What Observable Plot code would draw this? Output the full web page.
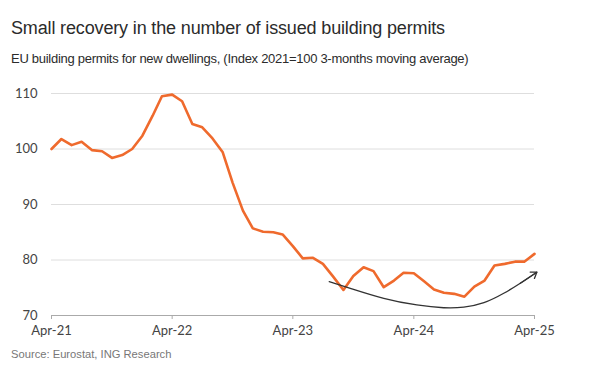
<!DOCTYPE html>
<html><head><meta charset="utf-8">
<script src="https://cdn.jsdelivr.net/npm/d3@7"></script>
<script src="https://cdn.jsdelivr.net/npm/@observablehq/plot@0.6"></script>
<style>
body{margin:0;background:#fff;width:590px;height:392px;position:relative;overflow:hidden}
.t{position:absolute;left:11px;white-space:nowrap;font-family:"Liberation Sans",Arial,sans-serif}
#title{top:17px;font-size:18px;letter-spacing:-0.15px;line-height:22px;color:#2b2b2b}
#subtitle{top:51px;font-size:13px;letter-spacing:-0.28px;line-height:16px;color:#2b2b2b}
#source{top:348px;font-size:11.2px;line-height:13px;color:#777}
#chart{position:absolute;left:0;top:80px}
</style></head><body>
<div id="title" class="t">Small recovery in the number of issued building permits</div>
<div id="subtitle" class="t">EU building permits for new dwellings, (Index 2021=100 3-months moving average)</div>
<div id="chart"></div>
<div id="source" class="t">Source: Eurostat, ING Research</div>
<script>
// Monthly index values, Apr-2021 .. Apr-2025
const startMonth = "2021-04-01";
const permitValues = [
  100.0, 101.8, 100.7, 101.3, 99.8, 99.6, 98.4, 98.9, 100.0,
  102.4, 106.0, 109.5, 109.8, 108.6, 104.5, 103.9, 101.9, 99.4, 93.9, 88.9, 85.7,
  85.1, 85.0, 84.6, 82.5, 80.3, 80.4, 79.3, 77.0, 74.6, 77.1, 78.7, 78.0,
  75.1, 76.3, 77.7, 77.6, 76.2, 74.7, 74.1, 73.9, 73.4, 75.2, 76.3, 79.0,
  79.3, 79.7, 79.7, 81.1
];
const xTickDates = ["2021-04-01", "2022-04-01", "2023-04-01", "2024-04-01", "2025-04-01"];
const xTickLabels = ["Apr-21", "Apr-22", "Apr-23", "Apr-24", "Apr-25"];
const yTicks = [70, 80, 90, 100, 110];
const gridValues = [80, 90, 100, 110];
// annotation arrow path (date, index value)
const arrowDates = ["2023-07-20", "2023-09-22", "2024-01-01", "2024-04-10", "2024-06-30", "2024-08-30", "2024-10-30", "2024-12-29", "2025-02-17", "2025-04-08"];
const arrowValues = [76.1, 74.9, 73.1, 71.9, 71.4, 71.5, 72.3, 74.0, 75.8, 77.8];

const start = new Date(startMonth);
const data = permitValues.map((v, i) => ({date: d3.utcMonth.offset(start, i), value: v}));
const arrowData = arrowDates.map((d, i) => ({date: new Date(d), value: arrowValues[i]}));
const tickDates = xTickDates.map(d => new Date(d));
const labelMap = new Map(tickDates.map((d, i) => [+d, xTickLabels[i]]));
const n = arrowData.length;
const head = [{x1: arrowData[n - 2].date, y1: arrowData[n - 2].value, x2: arrowData[n - 1].date, y2: arrowData[n - 1].value}];

const chart = Plot.plot({
  width: 590, height: 265,
  marginLeft: 51, marginRight: 56, marginTop: 13, marginBottom: 30,
  style: {fontFamily: "Lato, sans-serif", fontSize: "13px", color: "#444", background: "transparent", overflow: "visible"},
  x: {type: "utc", domain: [tickDates[0], tickDates[tickDates.length - 1]]},
  y: {domain: [70, 110]},
  marks: [
    Plot.ruleY(gridValues, {stroke: "#dedede", strokeWidth: 1}),
    Plot.axisY(yTicks, {tickSize: 0, tickPadding: 14, label: null, fill: "#444", tickFormat: d => String(d)}),
    Plot.ruleY([70], {stroke: "#aaa", strokeWidth: 1}),
    Plot.axisX(tickDates, {tickSize: 4, tickPadding: 6, stroke: "#aaa", fill: "#444", label: null, tickFormat: d => labelMap.get(+d)}),
    Plot.line(data, {x: "date", y: "value", stroke: "#ef6a2d", strokeWidth: 2.6, strokeLinejoin: "round"}),
    Plot.line(arrowData, {x: "date", y: "value", curve: "natural", stroke: "#333", strokeWidth: 1.3}),
    Plot.arrow(head, {x1: "x1", y1: "y1", x2: "x2", y2: "y2", stroke: "#333", strokeWidth: 1.3, headLength: 9, headAngle: 70})
  ]
});
document.getElementById("chart").appendChild(chart);
</script>
</body></html>
